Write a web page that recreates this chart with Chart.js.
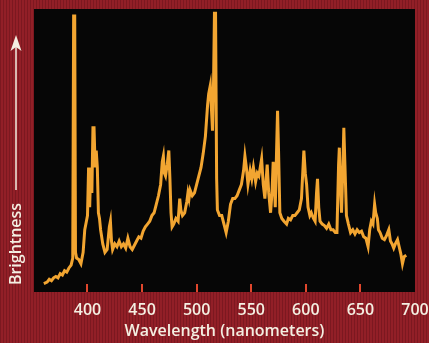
<!DOCTYPE html>
<html>
<head>
<meta charset="utf-8">
<script src="https://cdn.jsdelivr.net/npm/chart.js@4.4.0/dist/chart.umd.min.js"></script>
<style>
  html, body {
    margin: 0;
    padding: 0;
    width: 429px;
    height: 343px;
    overflow: hidden;
    background: repeating-linear-gradient(90deg, #7c1820 0px, #7c1820 1px, #921f27 1px, #921f27 3px);
  }
  #wrap { position: relative; width: 429px; height: 343px; }
  canvas { display: block; }
</style>
</head>
<body>
<div id="wrap"><canvas id="spectrum" width="429" height="343"></canvas></div>
<script>
// wavelength (nm) and relative brightness
const wavelengths = [
  360, 363, 365, 367, 369, 371, 373, 375, 377, 379, 381, 383, 385, 386.5, 387.3, 388.3, 389, 390, 392, 394,
  396, 397.5, 399, 400, 401, 402, 403, 404, 405, 406, 407, 408, 409, 410, 411, 412, 414, 416, 418, 420,
  421, 422, 423, 425, 427, 429, 431, 433, 435, 437, 439, 441, 443, 445, 447, 449, 451, 453, 455, 457,
  459, 461, 463, 465, 467, 468.5, 469.5, 470.5, 471.5, 473, 474.5, 475.5, 476.5, 477.5, 479, 481, 483, 484.5, 485.5, 487,
  489, 491, 492, 493, 494, 496, 498, 500, 502, 504, 506, 508, 510, 511, 512.5, 513.5, 514.5, 515.5, 516.3, 517.3,
  518.3, 519, 521, 523, 525, 527, 529, 531, 533, 535, 537, 539, 541, 543, 544.2, 545.5, 547, 549, 550.5, 552,
  554, 555.5, 557, 559.5, 561, 562.5, 564.6, 566, 567.7, 569, 570.1, 571, 572, 573.2, 574.1, 575, 576.2, 578, 580, 582.4,
  584, 586, 588, 590, 592, 594, 596, 598.2, 599.5, 600.7, 602, 603.7, 605, 607, 608.5, 609.8, 610.7, 611.8, 613, 615,
  617, 619, 621, 623, 625, 627, 628.5, 630, 630.7, 631.5, 632.7, 634, 634.8, 635.8, 637.2, 639, 641, 643, 645, 647,
  649, 651, 653, 655, 657, 658.5, 660, 661.5, 663, 664, 665.5, 666.5, 668, 670, 672, 674, 676, 677.5, 679, 680.5,
  682, 684, 685.5, 687, 688.5, 690, 692
];
const brightness = [
  3.0, 3.5, 4.5, 4.0, 5.0, 5.5, 5.0, 6.5, 6.0, 7.5, 7.0, 8.5, 9.5, 12, 97.5, 97.5, 14, 12, 11.5, 10,
  14, 22, 25, 27, 44, 30, 44, 35, 58, 58, 44, 50, 44, 28, 26, 22, 17, 14, 15, 23,
  25, 18, 15, 17, 16, 18, 16, 17, 15.5, 19, 16, 15, 16.5, 18, 19.5, 19, 21.5, 23, 24, 25,
  27, 28, 31, 34, 38, 46, 48, 42, 41, 45, 50, 40, 28, 23, 24, 26, 25, 33, 29, 27,
  28, 32, 35, 33, 36, 34, 35, 38, 41, 44, 49, 55, 66, 70, 73, 65, 57, 75, 98.5, 98.5,
  40, 29, 27, 27, 24, 21, 25, 31, 33, 33, 34, 36, 38, 43, 48, 44, 38, 43, 40, 44,
  39, 42, 41, 47, 38, 33, 45, 35, 28, 35, 46, 40, 30, 50, 64, 50, 28, 26, 25, 24,
  26, 25.5, 27, 27, 28, 29, 33, 50, 42, 38, 30, 27, 28, 26, 25, 35, 40, 30, 25, 24,
  23.5, 22.5, 24, 22, 22, 21, 21, 45, 51, 40, 28, 45, 58, 45, 27, 24, 21, 22, 20.5, 22,
  21, 21.5, 19.5, 19, 16, 22, 25, 24, 31, 28, 26, 22, 21, 19, 18.5, 20, 22, 18, 17, 15.5,
  17, 18.5, 16, 13.5, 10, 12.5, 13
];
const tickValues = [400, 450, 500, 550, 600, 650, 700];
const markedTicks = [400, 450, 500, 550, 600, 650];

const textColor = "#f4efe2";

// black plot area, red tick marks inside the bottom edge, and the Brightness arrow
const plotDecor = {
  id: "plotDecor",
  beforeDatasetsDraw(chart) {
    const { ctx, chartArea: a } = chart;
    ctx.save();
    ctx.fillStyle = "#060606";
    ctx.fillRect(a.left, a.top, a.right - a.left, a.bottom - a.top);

    const x = chart.scales.x;
    ctx.strokeStyle = "#e0462c";
    ctx.lineWidth = 2;
    markedTicks.forEach((v) => {
      const px = Math.round(x.getPixelForValue(v));
      ctx.beginPath();
      ctx.moveTo(px, a.bottom - 8);
      ctx.lineTo(px, a.bottom);
      ctx.stroke();
    });
    ctx.restore();
  },
  afterDraw(chart) {
    const { ctx } = chart;
    ctx.save();
    ctx.fillStyle = textColor;
    ctx.font = "600 16px 'Open Sans'";
    ctx.translate(16, 244);
    ctx.rotate(-Math.PI / 2);
    ctx.textAlign = "center";
    ctx.textBaseline = "middle";
    ctx.fillText("Brightness", 0, 0);
    ctx.restore();

    ctx.save();
    ctx.strokeStyle = textColor;
    ctx.fillStyle = textColor;
    ctx.lineWidth = 1.5;
    ctx.beginPath();
    ctx.moveTo(16, 190);
    ctx.lineTo(16, 46);
    ctx.stroke();
    ctx.beginPath();
    ctx.moveTo(16, 35);
    ctx.lineTo(10.5, 51);
    ctx.lineTo(16, 47);
    ctx.lineTo(21.5, 51);
    ctx.closePath();
    ctx.fill();
    ctx.restore();
  },
};

const points = wavelengths.map((w, i) => ({ x: w, y: brightness[i] }));

new Chart(document.getElementById("spectrum"), {
  type: "line",
  data: {
    datasets: [
      {
        data: points,
        borderColor: "#f2a531",
        borderWidth: 3,
        pointRadius: 0,
        tension: 0,
        borderJoinStyle: "miter",
      },
    ],
  },
  options: {
    responsive: false,
    animation: false,
    devicePixelRatio: 1,
    layout: { padding: { left: 34, right: 14, top: 9, bottom: 2 } },
    plugins: { legend: { display: false }, tooltip: { enabled: false } },
    scales: {
      x: {
        type: "linear",
        min: 351,
        max: 700,
        afterBuildTicks: (axis) => {
          axis.ticks = tickValues.map((v) => ({ value: v }));
        },
        afterFit: (axis) => {
          axis.height = 49;
          axis.paddingLeft = 0;
          axis.paddingRight = 0;
        },
        grid: { display: false, drawTicks: false },
        border: { display: false },
        ticks: {
          color: textColor,
          font: { family: "'Open Sans'", size: 16, weight: "600" },
          padding: 9,
          maxRotation: 0,
          autoSkip: false,
        },
        title: {
          display: true,
          text: "Wavelength (nanometers)",
          color: textColor,
          font: { family: "'Open Sans'", size: 16, weight: "600" },
          padding: { top: 2, bottom: 0 },
        },
      },
      y: {
        display: false,
        min: 0,
        max: 100,
      },
    },
  },
  plugins: [plotDecor],
});
</script>
</body>
</html>
